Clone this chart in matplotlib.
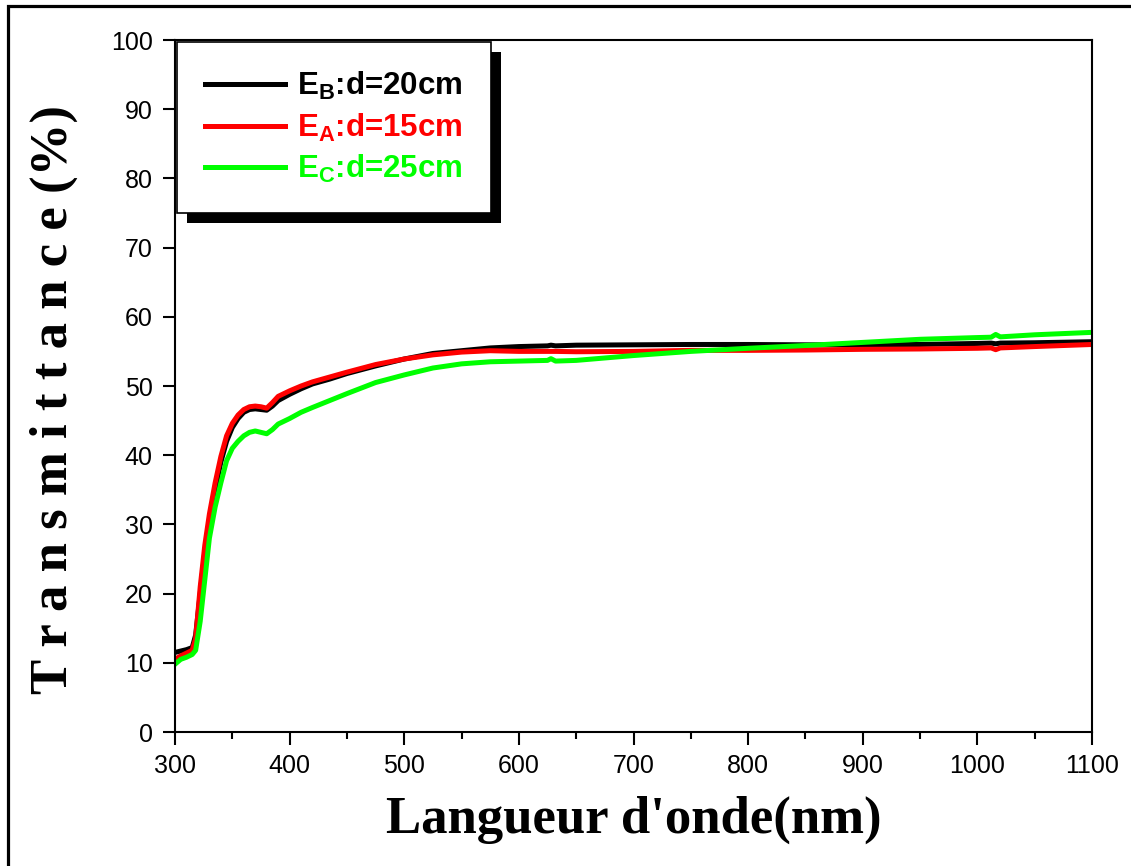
import matplotlib
matplotlib.use('Agg')
import matplotlib.pyplot as plt
import matplotlib.patheffects as pe
from matplotlib.patches import Rectangle
from matplotlib.ticker import MultipleLocator

# wavelength (nm)
wl = [300, 305, 310, 315, 318, 322, 326, 330, 335, 340, 345, 350, 355, 360,
      365, 370, 375, 380, 385, 390, 400, 410, 420, 435, 450, 475, 500, 525,
      550, 575, 600, 625, 628, 632, 650, 700, 750, 800, 850, 900, 950, 1000,
      1012, 1016, 1020, 1050, 1100]

# transmittance (%)
t_b = [11.5, 11.7, 11.9, 12.2, 14.0, 20.0, 26.0, 30.5, 35.0, 39.0, 42.0, 44.0,
       45.3, 46.2, 46.6, 46.7, 46.6, 46.5, 47.1, 47.9, 48.8, 49.6, 50.3, 51.0,
       51.8, 52.9, 53.9, 54.7, 55.1, 55.5, 55.7, 55.8, 55.9, 55.8, 55.9, 55.95,
       56.0, 56.0, 55.95, 55.95, 56.0, 56.15, 56.2, 56.1, 56.2, 56.25, 56.4]
t_a = [10.5, 11.0, 11.4, 11.8, 13.5, 21.0, 27.0, 31.5, 36.0, 39.8, 42.8, 44.6,
       45.8, 46.6, 47.0, 47.1, 47.0, 46.8, 47.6, 48.5, 49.3, 50.0, 50.6, 51.3,
       52.0, 53.1, 53.9, 54.5, 54.9, 55.1, 55.0, 55.0, 55.0, 55.0, 54.95, 55.0,
       55.15, 55.15, 55.2, 55.3, 55.35, 55.45, 55.5, 55.25, 55.5, 55.7, 56.0]
t_c = [9.8, 10.5, 10.8, 11.2, 11.8, 16.0, 22.0, 28.0, 32.5, 36.0, 39.2, 41.0,
       42.0, 42.8, 43.3, 43.5, 43.3, 43.1, 43.7, 44.5, 45.3, 46.2, 46.9, 47.9,
       48.9, 50.5, 51.6, 52.6, 53.2, 53.5, 53.6, 53.7, 53.95, 53.6, 53.7, 54.4,
       55.0, 55.45, 55.85, 56.3, 56.75, 57.0, 57.05, 57.45, 57.1, 57.4, 57.75]

series = [
    (t_b, '#000000', r'E$_\mathbf{B}$:d=20cm'),
    (t_a, '#ff0000', r'E$_\mathbf{A}$:d=15cm'),
    (t_c, '#00ff00', r'E$_\mathbf{C}$:d=25cm'),
]

plt.rcParams['font.family'] = ['Liberation Sans', 'DejaVu Sans']
plt.rcParams['mathtext.fontset'] = 'custom'
plt.rcParams['mathtext.bf'] = 'Liberation Sans:bold'
plt.rcParams['mathtext.rm'] = 'Liberation Sans:bold'

W, H = 1131, 866
fig = plt.figure(figsize=(W / 100, H / 100), dpi=100)
ax = fig.add_axes([175 / W, 1 - 732 / H, (1092 - 175) / W, (732 - 40) / H])

for y, c, lab in series:
    ax.plot(wl, y, color=c, lw=3.6, label=lab)

ax.set_xlim(300, 1100)
ax.set_ylim(0, 100)
ax.xaxis.set_major_locator(MultipleLocator(100))
ax.xaxis.set_minor_locator(MultipleLocator(50))
ax.yaxis.set_major_locator(MultipleLocator(10))
for s in ax.spines.values():
    s.set_linewidth(1.5)
ax.tick_params(which='major', direction='out', length=9, width=1.5,
               labelsize=18, pad=7, top=False, right=False)
ax.tick_params(which='minor', direction='out', length=5, width=1.5)

ax.set_xlabel("Langueur d'onde(nm)", family='Liberation Serif',
              weight='bold', fontsize=38)
ax.set_ylabel('T r a n s m i t t a n c e (%)', family='Liberation Serif',
              weight='bold', fontsize=38)
ax.xaxis.set_label_coords(0.5, -0.092)
ax.yaxis.set_label_coords(-0.106, 0.48)

leg = ax.legend(loc='upper left', bbox_to_anchor=(0.002, 0.997),
                borderaxespad=0, fancybox=False, framealpha=1,
                edgecolor='black', labelcolor='linecolor',
                prop={'family': 'Liberation Sans', 'weight': 'bold',
                      'size': 22.5},
                handlelength=2.56, handletextpad=0.4, borderpad=0.9,
                labelspacing=0.3)
leg.get_frame().set_linewidth(1.2)
leg.get_frame().set_path_effects([
    pe.SimplePatchShadow(offset=(7, -7), shadow_rgbFace='black', alpha=1),
    pe.Normal()])

# outer frame (top and left edges visible)
fig.patches.append(Rectangle((7.5 / W, -0.1), 1.5, (H - 6.5) / H + 0.1,
                             transform=fig.transFigure, fill=False,
                             lw=2.3, edgecolor='black', clip_on=False))

fig.savefig('out.png', dpi=100)
